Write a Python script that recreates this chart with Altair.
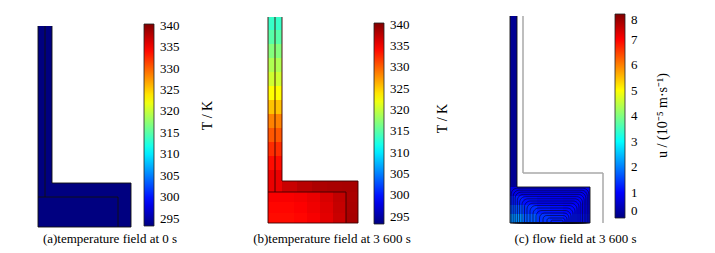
import altair as alt
import pandas as pd

# ---------------- colour map (jet-like, COMSOL rainbow) ----------------
JET_COLORS = ["#000080", "#0000ff", "#00ffff", "#ffff00", "#ff0000", "#800000"]
JET_STOPS = [0.0, 0.125, 0.375, 0.625, 0.875, 1.0]

T_RANGE = [293.3, 340.4]          # K
U_RANGE = [0.0, 8.0]              # 1e-5 m/s
T_TICKS = [295, 300, 305, 310, 315, 320, 325, 330, 335, 340]
U_TICKS = [0, 1, 2, 3, 4, 5, 6, 7, 8]

CAPTIONS = ["(a)temperature field at 0 s",
            "(b)temperature field at 3 600 s",
            "(c) flow field at 3 600 s"]
T_TITLE = "T / K"
U_TITLE = "u / (10\u207b\u2075 m\u00b7s\u207b\u00b9)"

# ---------------- geometry (units ~ px) ----------------
# [total width, total height, column outer width, column inner width,
#  outer box height, inner box height, inner box width]
GEOM_A = [93, 201, 14, 7, 44, 30, 80]
GEOM_B = [90, 206, 14, 7, 42, 31, 78]
GEOM_C = [93, 207, 13, 7, 50, 36, 80]

# ---------------- field values ----------------
T_INIT = 293.15

# panel b: column temperature, bottom -> top, with band edges
B_COL_EDGES = [31, 53, 67, 81, 95, 109, 123, 137, 151, 165, 179, 193, 206]
B_COL_T = [335.5, 334.0, 332.5, 330.5, 328.5, 325.5, 322.7, 320.5, 319.0, 317.0, 315.0, 313.5]
# inner box: cell edges and values (rows bottom->top, columns left->right)
B_BOX_XEDGES = [0, 13, 26, 39, 52, 65, 78]
B_BOX_YEDGES = [0, 10, 21, 31]
B_BOX_T = [
    [334.0, 334.0, 334.3, 334.9, 335.8, 337.0],
    [334.3, 334.3, 334.6, 335.2, 336.0, 337.2],
    [334.8, 334.8, 335.0, 335.5, 336.3, 337.4],
]
# outer shell: top strip and right strip
B_TOP_XEDGES = [14, 29, 44, 59, 74, 90]
B_TOP_T = [337.0, 337.8, 338.3, 338.5, 338.6]
B_RIGHT_YEDGES = [0, 10, 21, 31]
B_RIGHT_T = [338.6, 338.5, 338.4]

# panel c: velocity magnitude
C_COL_U = 0.15
C_BOX_XEDGES = [0, 13, 27, 40, 53, 67, 80]
C_BOX_YEDGES = [0, 9, 18, 27, 36]
C_BOX_U = [
    [2.1, 1.7, 1.4, 1.25, 1.15, 1.1],
    [1.6, 1.35, 1.2, 1.1, 1.05, 1.0],
    [1.2, 1.1, 1.05, 1.0, 0.95, 0.95],
    [0.8, 0.85, 0.85, 0.85, 0.85, 0.85],
]
# streamline loops in the fluid box: left, right, top
LOOP_X1 = [1.2, 3.2, 5.2, 7.4, 9.6, 12, 14.5, 17, 20, 23, 26, 29.5, 33, 37, 41]
LOOP_X2 = [78.8, 77.3, 75.8, 74.2, 72.5, 70.8, 69, 67, 65, 63, 61, 59, 57, 55, 53]
LOOP_Y2 = [34.8, 32.8, 30.8, 28.6, 26.4, 24.2, 22, 19.8, 17.5, 15, 12.5, 10, 7.5, 5, 2.8]

FONT = "Liberation Serif"


def piece_domain(r):
    return [r[0] + s * (r[1] - r[0]) for s in JET_STOPS]


def grid_cells(xe, ye, vals):
    rows = []
    for r in range(len(ye) - 1):
        for c in range(len(xe) - 1):
            rows.append(dict(x=xe[c], x2=xe[c + 1], y=ye[r], y2=ye[r + 1], v=vals[r][c]))
    return rows


def cells_uniform(g, v):
    W, H, cw, ci, bo, bi, bw = g
    return [dict(x=0, x2=cw, y=bo, y2=H, v=v), dict(x=0, x2=W, y=0, y2=bo, v=v)]


def cells_b(g):
    W, H, cw, ci, bo, bi, bw = g
    rows = []
    for i, v in enumerate(B_COL_T):
        rows.append(dict(x=0, x2=cw, y=B_COL_EDGES[i], y2=B_COL_EDGES[i + 1], v=v))
    rows += grid_cells(B_BOX_XEDGES, B_BOX_YEDGES, B_BOX_T)
    rows += grid_cells(B_TOP_XEDGES, [bi, bo], [B_TOP_T])
    rows += grid_cells([bw, W], B_RIGHT_YEDGES, [[v] for v in B_RIGHT_T])
    return rows


def cells_c(g):
    W, H, cw, ci, bo, bi, bw = g
    rows = [dict(x=0, x2=ci, y=bi, y2=H, v=C_COL_U)]
    rows += grid_cells(C_BOX_XEDGES, C_BOX_YEDGES, C_BOX_U)
    return rows


def segs_solid(g):
    W, H, cw, ci, bo, bi, bw = g
    pts = [(0, 0, 0, H), (cw, H, cw, bo), (cw, bo, W, bo), (W, bo, W, 0), (0, 0, W, 0),
           (ci, H, ci, bi), (0, bi, bw, bi), (bw, bi, bw, 0)]
    return [dict(x=a, y=b, x2=c, y2=d) for a, b, c, d in pts]


def segs_fluid(g):
    W, H, cw, ci, bo, bi, bw = g
    pts = [(0, 0, 0, H), (ci, H, ci, bi), (ci, bi, bw, bi), (bw, bi, bw, 0), (0, 0, bw, 0)]
    return [dict(x=a, y=b, x2=c, y2=d) for a, b, c, d in pts]


def segs_shell(g):
    W, H, cw, ci, bo, bi, bw = g
    pts = [(cw, H, cw, bo), (cw, bo, W, bo), (W, bo, W, 0)]
    return [dict(x=a, y=b, x2=c, y2=d) for a, b, c, d in pts]


def panel(cells, segs, line_color, rng, ticks, title, caption, xdom, ydom, vw, vh,
          lx, ly, glen, cap_dx, tx, ty, gray=None, loops=None):
    xs = alt.Scale(domain=xdom, nice=False, zero=False)
    ys = alt.Scale(domain=ydom, nice=False, zero=False)
    cscale = alt.Scale(type="linear", domain=piece_domain(rng), range=JET_COLORS,
                       interpolate="rgb", clamp=True)
    legend = alt.Legend(
        type="gradient", orient="none", legendX=lx, legendY=ly, direction="vertical",
        gradientLength=glen, gradientThickness=10, title=None,
        values=ticks, labelFont=FONT, labelFontSize=13,
        labelColor="black", labelOffset=6, labelOverlap=False,
        gradientStrokeColor="#222", gradientStrokeWidth=0.8, padding=0)
    yaxis = alt.Axis(orient="right", title=title, titleAngle=270, titleX=tx, titleY=ty,
                     titleAlign="center", titleBaseline="middle", titleFont=FONT,
                     titleFontSize=14, titleFontWeight="normal", titleColor="black",
                     labels=False, ticks=False, domain=False, grid=False)
    X = alt.X("x:Q", scale=xs, axis=None)
    Y = alt.Y("y:Q", scale=ys, axis=yaxis)
    layers = [
        alt.Chart(pd.DataFrame(cells)).mark_rect().encode(
            x=X, x2="x2:Q", y=Y, y2="y2:Q",
            color=alt.Color("v:Q", scale=cscale, legend=legend))
    ]
    if loops is not None:
        layers.append(alt.Chart(pd.DataFrame(loops)).mark_rect(
            fillOpacity=0, stroke="#050520", strokeWidth=0.6,
            cornerRadiusTopLeft=6, cornerRadiusTopRight=6).encode(
            x=X, x2="x2:Q", y=Y, y2="y2:Q"))
    if gray is not None:
        layers.append(alt.Chart(pd.DataFrame(gray)).mark_rule(
            color="#a8a8a8", strokeWidth=1.5).encode(
            x=X, x2="x2:Q", y=Y, y2="y2:Q"))
    layers.append(alt.Chart(pd.DataFrame(segs)).mark_rule(
        color=line_color, strokeWidth=0.9).encode(
        x=X, x2="x2:Q", y=Y, y2="y2:Q"))
    return alt.layer(*layers).properties(
        width=vw, height=vh,
        title=alt.TitleParams(caption, orient="bottom", anchor="middle", dx=cap_dx,
                              offset=3, font=FONT, fontSize=13, fontWeight="normal",
                              color="black", frame="group"))


loops = [dict(x=a, x2=b, y=0, y2=c) for a, b, c in zip(LOOP_X1, LOOP_X2, LOOP_Y2)]

pa = panel(cells_uniform(GEOM_A, T_INIT), segs_solid(GEOM_A), "#111", T_RANGE, T_TICKS,
           T_TITLE, CAPTIONS[0], [-30, 210], [-3, 219], 240, 222, 136, 16, 202, -18,
           -41, 107)
pb = panel(cells_b(GEOM_B), segs_solid(GEOM_B), "#3a0000", T_RANGE, T_TICKS,
           T_TITLE, CAPTIONS[1], [-20, 220], [-7, 215], 240, 222, 126, 15, 201, -36,
           -46, 110)
pc = panel(cells_c(GEOM_C), segs_fluid(GEOM_C), "#111", U_RANGE, U_TICKS,
           U_TITLE, CAPTIONS[2], [-22, 197], [-7, 215], 219, 222, 127, 6, 204, -22,
           -45, 107, gray=segs_shell(GEOM_C), loops=loops)

chart = alt.hconcat(pa, pb, pc, spacing=0).resolve_scale(
    color="independent", x="independent", y="independent"
).resolve_legend(color="independent").properties(
    padding=0, background="white").configure_view(stroke=None)

chart.save("out.html", embed_options={"renderer": "svg", "actions": False})
